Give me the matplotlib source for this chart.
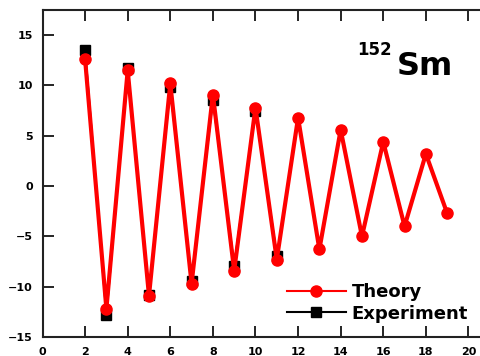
import matplotlib
matplotlib.use("Agg")
import matplotlib.pyplot as plt
from matplotlib.lines import Line2D

# Spin values and energy staggering for 152Sm
theory_spin = [2, 3, 4, 5, 6, 7, 8, 9, 10, 11, 12, 13, 14, 15, 16, 17, 18, 19]
theory_vals = [12.6, -12.2, 11.5, -10.9, 10.2, -9.7, 9.1, -8.4, 7.8, -7.3,
               6.8, -6.3, 5.6, -5.0, 4.4, -4.0, 3.2, -2.7]

exp_spin = [2, 3, 4, 5, 6, 7, 8, 9, 10, 11]
exp_vals = [13.5, -12.8, 11.7, -10.8, 9.8, -9.4, 8.6, -7.9, 7.5, -6.9]

xticks = [0, 2, 4, 6, 8, 10, 12, 14, 16, 18, 20]
yticks = [-15, -10, -5, 0, 5, 10, 15]

fig = plt.figure(figsize=(4.8, 3.56), dpi=100)
ax = fig.add_axes([42.5 / 480, 19 / 356, 441.5 / 480, 327 / 356])

# experiment first so theory sits on top
ax.plot(exp_spin, exp_vals, color="black", lw=1.5, marker="s", ms=7,
        mfc="black", mec="black", zorder=2)
ax.plot(theory_spin, theory_vals, color="red", lw=3, marker="o", ms=8,
        mfc="red", mec="red", zorder=3)

ax.set_xlim(0, 20.73)
ax.set_ylim(-15, 17.5)
ax.set_xticks(xticks)
ax.set_yticks(yticks)
ax.tick_params(direction="in", length=8, width=1.2, labelsize=8, pad=7,
               top=True, right=False)
for lab in ax.get_xticklabels() + ax.get_yticklabels():
    lab.set_fontweight("bold")
for s in ax.spines.values():
    s.set_linewidth(1.5)
    s.set_color("#222222")

# nucleus label
ax.text(357, 356 - 55, "152", transform=None, fontsize=12, fontweight="bold",
        ha="left", va="baseline")
ax.text(397, 356 - 75, "Sm", transform=None, fontsize=23, fontweight="bold",
        ha="left", va="baseline")

handles = [
    Line2D([], [], color="red", lw=1.5, marker="o", ms=8, mfc="red", mec="red"),
    Line2D([], [], color="black", lw=1.5, marker="s", ms=7, mfc="black", mec="black"),
]
ax.legend(handles, ["Theory", "Experiment"], loc="lower left",
          bbox_to_anchor=(274 / 480, 0.058), bbox_transform=fig.transFigure,
          frameon=False, handlelength=3.3, handletextpad=0.3, labelspacing=0.2,
          prop={"weight": "bold", "size": 13}, borderpad=0.2)

fig.savefig("out.png", dpi=100)
